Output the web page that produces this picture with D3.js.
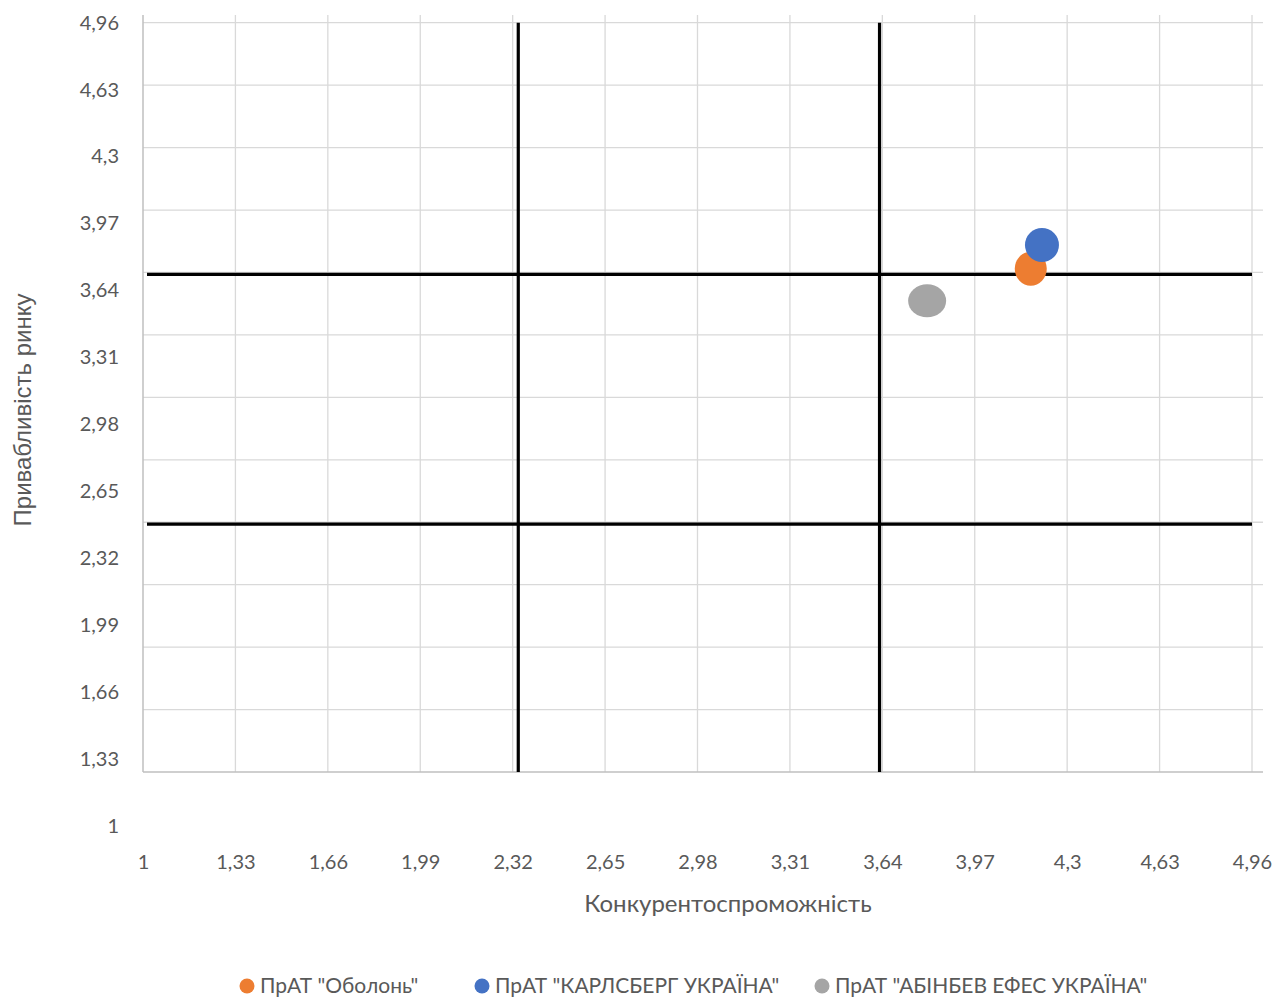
<!DOCTYPE html>
<html>
<head>
<meta charset="utf-8">
<script src="https://cdn.jsdelivr.net/npm/d3@7/dist/d3.min.js"></script>
<style>
  html, body { margin: 0; padding: 0; background: #fff; }
  svg { display: block; }
</style>
</head>
<body>
<svg id="chart" width="1287" height="998"></svg>
<script>
// ---- Data ----
const tickValues = [1, 1.33, 1.66, 1.99, 2.32, 2.65, 2.98, 3.31, 3.64, 3.97, 4.3, 4.63, 4.96];
const tickLabels = ["1", "1,33", "1,66", "1,99", "2,32", "2,65", "2,98", "3,31", "3,64", "3,97", "4,3", "4,63", "4,96"];
const seriesNames = ['ПрАТ "Оболонь"', 'ПрАТ "КАРЛСБЕРГ УКРАЇНА"', 'ПрАТ "АБІНБЕВ ЕФЕС УКРАЇНА"'];
const seriesX = [4.17, 4.21, 3.80];
const seriesY = [3.66, 3.785, 3.49];
const quadrantX = [2.34, 3.63];
const quadrantY = [3.63, 2.31];
const xTitle = "Конкурентоспроможність";
const yTitle = "Привабливість ринку";

// ---- Styles ----
const colors = ["#ED7D31", "#4472C4", "#A5A5A5"];
const markerR = [[16, 17], [17, 17], [19, 16.5]];
const legendX = [247, 482, 822];
const textColor = "#595959";
const fontMain = "Lato, 'Noto Sans', sans-serif";

const svg = d3.select("#chart");

const x = d3.scaleLinear().domain([1, 4.96]).range([143, 1252]);
const y = d3.scaleLinear().domain([1, 4.96]).range([772, 22.7]);
const yLab = d3.scaleLinear().domain([1, 4.96]).range([826, 22.7]);

const gridTop = 15, gridRight = 1263;

// horizontal gridlines
svg.append("g").selectAll("line")
  .data(tickValues.slice(1))
  .join("line")
  .attr("x1", x(1)).attr("x2", gridRight)
  .attr("y1", d => y(d)).attr("y2", d => y(d))
  .attr("stroke", "#d9d9d9").attr("stroke-width", 1.3);

// vertical gridlines
svg.append("g").selectAll("line")
  .data(tickValues.slice(1))
  .join("line")
  .attr("x1", d => x(d)).attr("x2", d => x(d))
  .attr("y1", gridTop).attr("y2", y(1))
  .attr("stroke", "#d9d9d9").attr("stroke-width", 1.3);

// axis lines
svg.append("line")
  .attr("x1", x(1)).attr("x2", x(1)).attr("y1", gridTop).attr("y2", y(1))
  .attr("stroke", "#bfbfbf").attr("stroke-width", 1.5);
svg.append("line")
  .attr("x1", x(1)).attr("x2", gridRight).attr("y1", y(1)).attr("y2", y(1))
  .attr("stroke", "#bfbfbf").attr("stroke-width", 1.5);

// quadrant lines
svg.append("g").selectAll("line")
  .data(quadrantX)
  .join("line")
  .attr("x1", d => x(d)).attr("x2", d => x(d))
  .attr("y1", y(4.96)).attr("y2", y(1))
  .attr("stroke", "#000").attr("stroke-width", 3.2);
svg.append("g").selectAll("line")
  .data(quadrantY)
  .join("line")
  .attr("x1", x(1) + 4).attr("x2", x(4.96))
  .attr("y1", d => y(d)).attr("y2", d => y(d))
  .attr("stroke", "#000").attr("stroke-width", 3.2);

// x axis labels
const xAxis = d3.axisBottom(x).tickValues(tickValues)
  .tickFormat((d, i) => tickLabels[i]).tickSize(0).tickPadding(0);
const gx = svg.append("g").attr("transform", "translate(0,855)").call(xAxis);
gx.select(".domain").remove();
gx.selectAll("text").attr("font-family", fontMain).attr("font-size", 20)
  .attr("fill", textColor).attr("dy", "0.71em").attr("y", 0);

// y axis labels (Excel-like offset label scale)
const yAxis = d3.axisLeft(yLab).tickValues(tickValues)
  .tickFormat((d, i) => tickLabels[i]).tickSize(0).tickPadding(0);
const gy = svg.append("g").attr("transform", "translate(119,0)").call(yAxis);
gy.select(".domain").remove();
gy.selectAll("text").attr("font-family", fontMain).attr("font-size", 20)
  .attr("fill", textColor).attr("x", 0);

// axis titles
svg.append("text")
  .attr("x", 728).attr("y", 912)
  .attr("text-anchor", "middle")
  .attr("font-family", fontMain).attr("font-size", 24)
  .attr("fill", textColor).text(xTitle);
svg.append("text")
  .attr("transform", "translate(31,410) rotate(-90)")
  .attr("text-anchor", "middle")
  .attr("font-family", "'Liberation Sans', Arial, sans-serif").attr("font-size", 24)
  .attr("fill", textColor).text(yTitle);

// markers
const pts = seriesNames.map((n, i) => ({ name: n, x: seriesX[i], y: seriesY[i], i }));
svg.append("g").selectAll("ellipse")
  .data(pts)
  .join("ellipse")
  .attr("cx", d => x(d.x)).attr("cy", d => y(d.y))
  .attr("rx", d => markerR[d.i][0]).attr("ry", d => markerR[d.i][1])
  .attr("fill", d => colors[d.i]);

// legend
const lg = svg.append("g").selectAll("g")
  .data(pts)
  .join("g")
  .attr("transform", d => `translate(${legendX[d.i]},986)`);
lg.append("circle").attr("r", 7.5).attr("fill", d => colors[d.i]);
lg.append("text")
  .attr("x", 13).attr("dy", "0.35em")
  .attr("font-family", fontMain).attr("font-size", 21)
  .attr("fill", textColor).text(d => d.name);
</script>
</body>
</html>
